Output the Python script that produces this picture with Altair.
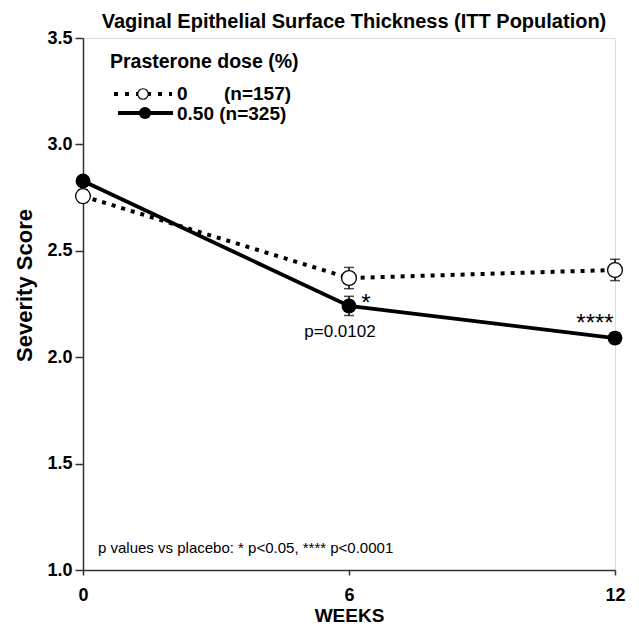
import altair as alt
import pandas as pd

weeks = [0, 6, 12]
placebo_mean = [2.757, 2.372, 2.41]
placebo_se = [0.03, 0.05, 0.05]
active_mean = [2.828, 2.241, 2.09]
active_se = [0.02, 0.045, 0.025]

FONT = "Liberation Sans"
AX = "#333333"

df_p = pd.DataFrame({"week": weeks, "score": placebo_mean,
                     "lo": [m - s for m, s in zip(placebo_mean, placebo_se)],
                     "hi": [m + s for m, s in zip(placebo_mean, placebo_se)]})
df_a = pd.DataFrame({"week": weeks, "score": active_mean,
                     "lo": [m - s for m, s in zip(active_mean, active_se)],
                     "hi": [m + s for m, s in zip(active_mean, active_se)]})

xs = alt.Scale(domain=[0, 12], nice=False)
ys = alt.Scale(domain=[1.0, 3.5], nice=False)
YT = "Severity Score"

xenc = alt.X("week:Q", scale=xs, axis=alt.Axis(
    values=[0, 6, 12], title="WEEKS", grid=False, labelFont=FONT, labelFontSize=18,
    labelFontWeight="bold", labelColor="black", titleFont=FONT, titleFontSize=19,
    titleFontWeight="bold", titleColor="black", domainColor=AX, domainWidth=1.5,
    tickColor=AX, tickWidth=1.5, tickSize=5, labelPadding=11, titlePadding=2,
    labelFlush=False))
yenc = alt.Y("score:Q", scale=ys, title=YT, axis=alt.Axis(
    values=[1.0, 1.5, 2.0, 2.5, 3.0, 3.5], format=".1f",
    grid=False, labelFont=FONT, labelFontSize=18, labelFontWeight="bold",
    labelColor="black", titleFont=FONT, titleFontSize=22, titleFontWeight="bold",
    titleColor="black", domainColor=AX, domainWidth=1.5, tickColor=AX,
    tickWidth=1.5, tickSize=8, labelPadding=3, titleX=-47, titleY=247))

base_p = alt.Chart(df_p)
base_a = alt.Chart(df_a)

line_p = base_p.mark_line(color="black", strokeWidth=4, strokeDash=[4, 6]).encode(x=xenc, y=yenc)
line_a = base_a.mark_line(color="black", strokeWidth=3.8).encode(x=xenc, y=yenc)

err_p = base_p.mark_errorbar(color="black", ticks=alt.TickConfig(size=10, thickness=1.5), thickness=1.5).encode(
    x="week:Q", y=alt.Y("lo:Q", scale=ys, title=YT), y2="hi:Q")
err_a = base_a.mark_errorbar(color="black", ticks=alt.TickConfig(size=10, thickness=1.5), thickness=1.5).encode(
    x="week:Q", y=alt.Y("lo:Q", scale=ys, title=YT), y2="hi:Q")

pt_p = base_p.mark_point(shape="circle", size=220, filled=True, fill="white",
                         stroke="black", strokeWidth=1.3, opacity=1).encode(
    x="week:Q", y=alt.Y("score:Q", title=YT))
pt_a = base_a.mark_point(shape="circle", size=220, filled=True, color="black", opacity=1).encode(
    x="week:Q", y=alt.Y("score:Q", title=YT))

# annotations
star1 = alt.Chart(pd.DataFrame({"week": [6], "score": [active_mean[1]], "txt": ["*"]})).mark_text(
    font=FONT, fontSize=24, color="black", dy=-2, dx=17).encode(x="week:Q", y="score:Q", text="txt:N")
star4 = alt.Chart(pd.DataFrame({"week": [12], "score": [active_mean[2]], "txt": ["****"]})).mark_text(
    font=FONT, fontSize=24, color="black", dy=-14, dx=-20).encode(x="week:Q", y="score:Q", text="txt:N")
pval = alt.Chart(pd.DataFrame({"week": [6], "score": [active_mean[1]], "txt": ["p=0.0102"]})).mark_text(
    font=FONT, fontSize=17, color="black", dy=26, dx=-9).encode(x="week:Q", y="score:Q", text="txt:N")
note = alt.Chart(pd.DataFrame({"txt": ["p values vs placebo: * p<0.05, **** p<0.0001"]})).mark_text(
    font=FONT, fontSize=15, color="black", align="left").encode(
    x=alt.value(15), y=alt.value(510), text="txt:N")

# legend
LF = 19
leg_head = alt.Chart(pd.DataFrame({"t": ["Prasterone dose (%)"]})).mark_text(
    font=FONT, fontSize=19.5, fontWeight="bold", align="left", color="black").encode(
    x=alt.value(27), y=alt.value(24), text="t:N")
leg_l1 = alt.Chart(pd.DataFrame({"a": [0]})).mark_rule(color="black", strokeWidth=4, strokeDash=[4, 7]).encode(
    x=alt.value(31), x2=alt.value(89), y=alt.value(56))
leg_l2 = alt.Chart(pd.DataFrame({"a": [0]})).mark_rule(color="black", strokeWidth=3.8).encode(
    x=alt.value(35), x2=alt.value(90), y=alt.value(75))
leg_c1 = alt.Chart(pd.DataFrame({"a": [0]})).mark_point(shape="circle", size=110, filled=True, fill="white",
                                                         stroke="black", strokeWidth=1.2, opacity=1).encode(
    x=alt.value(60), y=alt.value(56))
leg_c2 = alt.Chart(pd.DataFrame({"a": [0]})).mark_point(shape="circle", size=150, filled=True, color="black",
                                                         opacity=1).encode(x=alt.value(62), y=alt.value(75))
leg_t1a = alt.Chart(pd.DataFrame({"t": ["0"]})).mark_text(font=FONT, fontSize=LF, fontWeight="bold",
                                                          align="left", color="black").encode(
    x=alt.value(94), y=alt.value(56), text="t:N")
leg_t1b = alt.Chart(pd.DataFrame({"t": ["(n=157)"]})).mark_text(font=FONT, fontSize=LF, fontWeight="bold",
                                                                align="left", color="black").encode(
    x=alt.value(141), y=alt.value(56), text="t:N")
leg_t2 = alt.Chart(pd.DataFrame({"t": ["0.50 (n=325)"]})).mark_text(font=FONT, fontSize=LF, fontWeight="bold",
                                                                    align="left", color="black").encode(
    x=alt.value(94), y=alt.value(75.5), text="t:N")

chart = alt.layer(
    line_p, line_a, err_p, err_a, pt_p, pt_a, star1, star4, pval, note,
    leg_head, leg_l1, leg_l2, leg_c1, leg_c2, leg_t1a, leg_t1b, leg_t2
).properties(
    width=532, height=532,
    title=alt.TitleParams("Vaginal Epithelial Surface Thickness (ITT Population)", font=FONT,
                          fontSize=20, fontWeight="bold", color="black", anchor="middle",
                          offset=-3, dx=5),
    autosize=alt.AutoSizeParams(type="none"),
    padding={"left": 75, "top": 30, "right": 14, "bottom": 55},
).configure_view(stroke=None).configure(background="white")

chart.save("out.html", embed_options={"renderer": "svg", "actions": False})
